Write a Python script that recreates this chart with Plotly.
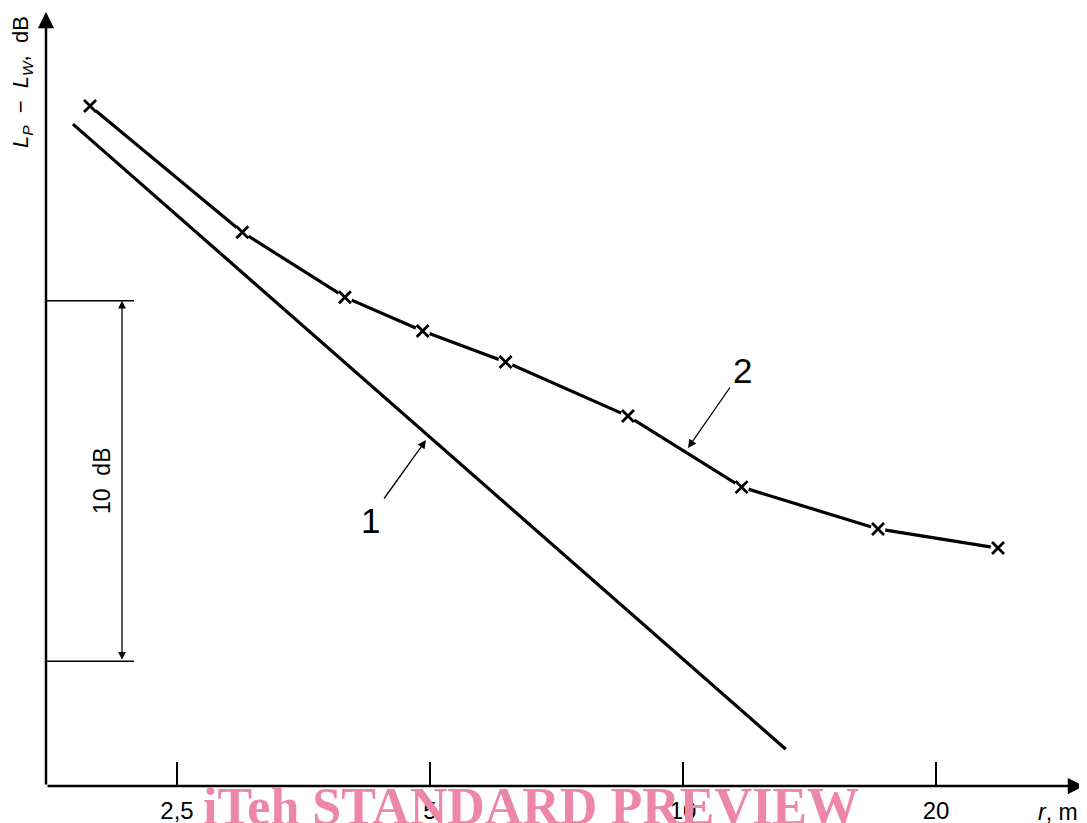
import plotly.graph_objects as go

# ---- data ----
r_line1 = [1.88, 13.25]                 # curve 1 (theoretical), m
lp_line1 = [-13.5, -30.84]              # dB
r_meas = [1.97, 2.99, 3.96, 4.90, 6.15, 8.60, 11.74, 17.06, 23.7]   # curve 2, m
lp_meas = [-13.0, -16.5, -18.3, -19.24, -20.1, -21.6, -23.57, -24.73, -25.26]
tick_vals = [2.5, 5, 10, 20]
tick_text = ["2,5", "5", "10", "20"]
bracket_top = -18.40
bracket_bottom = -28.40

W, H = 1087, 823
OFF = 8  # page body margin
ML, MR, MT, MB = 38, 0, 0, 45
PW, PH = W - ML - MR, H - MT - MB

def sx(X):
    return (X - OFF - ML) / PW

def sy(Y):
    return (H - MB - (Y - OFF)) / PH

FONT = "Liberation Sans, Arial, sans-serif"

fig = go.Figure()
fig.add_trace(go.Scatter(x=r_line1, y=lp_line1, mode="lines",
                         line=dict(color="black", width=3.2), hoverinfo="skip"))
fig.add_trace(go.Scatter(x=r_meas, y=lp_meas, mode="lines",
                         line=dict(color="black", width=3.2), hoverinfo="skip"))
fig.add_trace(go.Scatter(x=r_meas, y=lp_meas, mode="markers",
                         marker=dict(symbol="circle", size=15, color="white",
                                     line=dict(width=0)), hoverinfo="skip"))
fig.add_trace(go.Scatter(x=r_meas, y=lp_meas, mode="markers",
                         marker=dict(symbol="x-thin", size=12,
                                     line=dict(color="black", width=2.8)),
                         hoverinfo="skip"))

shapes = []
for yv in (bracket_top, bracket_bottom):
    shapes.append(dict(type="line", xref="paper", yref="y", x0=0, x1=sx(134),
                       y0=yv, y1=yv, line=dict(color="black", width=1.5)))

ann = []
# axes with arrowheads
ann.append(dict(x=sx(1084), y=0, xref="paper", yref="paper", ax=-(1084 - 46), ay=0,
                axref="pixel", ayref="pixel", showarrow=True, arrowhead=2,
                arrowsize=1.3, arrowwidth=2.5, arrowcolor="black", text=""))
ann.append(dict(x=0, y=sy(12), xref="paper", yref="paper", ax=0, ay=(786 - 12),
                showarrow=True, arrowhead=2, arrowsize=1.3, arrowwidth=2.5,
                arrowcolor="black", text=""))
# 10 dB double arrow
ann.append(dict(x=sx(122), y=bracket_top, xref="paper", yref="y",
                ax=0, ay=bracket_bottom, axref="pixel", ayref="y",
                showarrow=True, arrowhead=2, startarrowhead=2, arrowside="end+start",
                arrowsize=1.2, startarrowsize=1.2, arrowwidth=1.3,
                arrowcolor="black", text=""))
ann.append(dict(x=sx(102), y=(bracket_top + bracket_bottom) / 2, xref="paper", yref="y",
                xanchor="center", yanchor="middle",
                text="10&nbsp;&nbsp;dB", textangle=-90, showarrow=False,
                font=dict(family=FONT, size=23, color="black")))
# leaders for 1 and 2
ann.append(dict(x=sx(426), y=sy(440), xref="paper", yref="paper", ax=-43, ay=60,
                showarrow=True, arrowhead=2, arrowsize=1.3, arrowwidth=1.3,
                arrowcolor="black", text=""))
ann.append(dict(x=sx(370), y=sy(520), xref="paper", yref="paper", text="1",
                xanchor="center", yanchor="middle",
                showarrow=False, font=dict(family=FONT, size=35, color="black")))
ann.append(dict(x=sx(688), y=sy(448), xref="paper", yref="paper", ax=43, ay=-62,
                showarrow=True, arrowhead=2, arrowsize=1.3, arrowwidth=1.3,
                arrowcolor="black", text=""))
ann.append(dict(x=sx(742), y=sy(370), xref="paper", yref="paper", text="2",
                xanchor="center", yanchor="middle",
                showarrow=False, font=dict(family=FONT, size=35, color="black")))
# axis titles
ann.append(dict(x=sx(22), y=sy(82), xref="paper", yref="paper", textangle=-90,
                xanchor="center", yanchor="middle",
                text="<i>L</i><sub><i>P</i></sub>&nbsp; − &nbsp;<i>L</i><sub><i>W</i></sub>,&nbsp; dB",
                showarrow=False, font=dict(family=FONT, size=22, color="black")))
ann.append(dict(x=sx(1036), y=sy(812), xref="paper", yref="paper",
                xanchor="left", yanchor="middle",
                text="<i>r</i>, m", showarrow=False,
                font=dict(family=FONT, size=23, color="black")))
# watermark
ann.append(dict(x=sx(531), y=sy(837), xref="paper", yref="paper",
                xanchor="center", yanchor="bottom",
                text="<b>iTeh STANDARD PREVIEW</b>", showarrow=False,
                font=dict(family="Liberation Serif, Times New Roman, serif", size=52,
                          color="#ED87A8")))

fig.update_layout(
    width=W, height=H, margin=dict(l=ML, r=MR, t=MT, b=MB, pad=0),
    paper_bgcolor="white", plot_bgcolor="white", showlegend=False,
    shapes=shapes, annotations=ann,
    xaxis=dict(type="log", range=[0.24208, 1.49015], showgrid=False, zeroline=False,
               showline=False, tickvals=tick_vals, ticktext=tick_text,
               ticks="inside", ticklen=24, tickwidth=1.5, tickcolor="black",
               ticklabelstandoff=8,
               tickfont=dict(family=FONT, size=24, color="black")),
    yaxis=dict(range=[-31.86, -10.28], showgrid=False, zeroline=False,
               showline=False, showticklabels=False, ticks=""),
)

fig.write_html("out.html")
